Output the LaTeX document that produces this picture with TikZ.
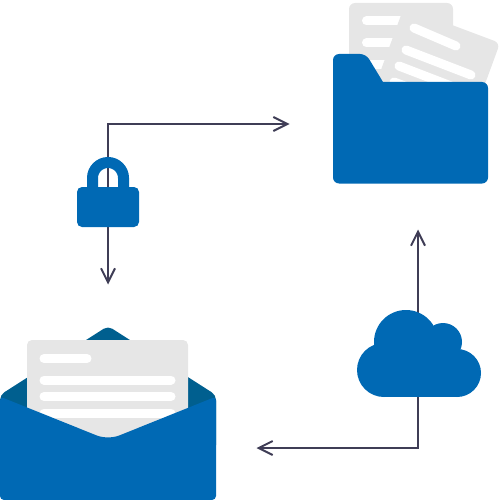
\documentclass[tikz,border=0pt]{standalone}
\usetikzlibrary{arrows.meta}
\definecolor{iconblue}{HTML}{0069B4}
\definecolor{flapblue}{HTML}{005F8F}
\definecolor{sheetgray}{HTML}{E6E6E6}
\definecolor{flowgray}{HTML}{3F3D56}
\tikzset{
	flowline/.style={draw=flowgray, line width=2pt, -{Straight Barb[length=14pt,width=14pt,line width=2pt]}},
	sheetstrip/.style={draw=white, line width=9pt, line cap=round},
}

\begin{document}
\begin{tikzpicture}[x=1pt,y=-1pt]
	\useasboundingbox (0,0) rectangle (500,500);
	\coordinate (lockc) at (108,200);
	\coordinate (cloudc) at (418,370);
	\coordinate (foldertip) at (289.5,124);
	\coordinate (mailtip) at (108,284.5);
	\coordinate (uptip) at (418,229.5);
	\coordinate (lefttip) at (256.5,448);
	\draw[flowline] (lockc) |- (foldertip);
	\draw[flowline] (lockc) -- (mailtip);
	\draw[flowline] (cloudc) -- (uptip);
	\draw[flowline] (cloudc) |- (lefttip);
	% folder
	\fill[sheetgray, rounded corners=6pt] (349,3) rectangle (453,100);
	\draw[sheetstrip] (366.5,21) -- (400,21);
	\draw[sheetstrip] (366.5,43) -- (400,43);
	\draw[sheetstrip] (366.5,65) -- (400,65);
	\fill[sheetgray, rounded corners=6pt] (404,7) -- (500,43) -- (470,125) -- (374,89) -- cycle;
	\draw[sheetstrip] (414,28) -- (456,46);
	\draw[sheetstrip] (406,50) -- (471,75);
	\draw[sheetstrip] (399,66) -- (464,91);
	\draw[sheetstrip] (394,82) -- (450,103);
	\fill[iconblue, rounded corners=6pt] (333,54) -- (366,54) [sharp corners] -- (383,82) [rounded corners=6pt] -- (488,82) -- (488,183.5) -- (333,183.5) -- cycle;
	% lock
	\draw[iconblue, line width=11pt] (92.5,190) -- (92.5,178) arc[start angle=180, end angle=360, radius=15.5] -- (123.5,190);
	\fill[iconblue, rounded corners=5pt] (77,187) rectangle (139,227);
	% cloud
	\fill[iconblue] (384,370) circle (27);
	\fill[iconblue] (457,373) circle (24);
	\fill[iconblue] (406,342) circle (32);
	\fill[iconblue] (443,342) circle (19);
	\fill[iconblue] (384,350) rectangle (457,397);
	% envelope
	\fill[flapblue, rounded corners=5pt] (0,450) -- (0,395) -- (108,326) -- (216,395) -- (216,450) -- cycle;
	\fill[sheetgray, rounded corners=5pt] (27,340) rectangle (188,450);
	\draw[sheetstrip] (44,358.5) -- (87,358.5);
	\draw[sheetstrip] (44,380) -- (171,380);
	\draw[sheetstrip] (44,396.5) -- (171,396.5);
	\draw[sheetstrip] (44,413) -- (171,413);
	\fill[iconblue, rounded corners=4pt] (0,500) -- (0,396.6) [rounded corners=12pt] -- (108,440) [rounded corners=4pt] -- (216,396.6) -- (216,500) -- cycle;
\end{tikzpicture}
\end{document}
